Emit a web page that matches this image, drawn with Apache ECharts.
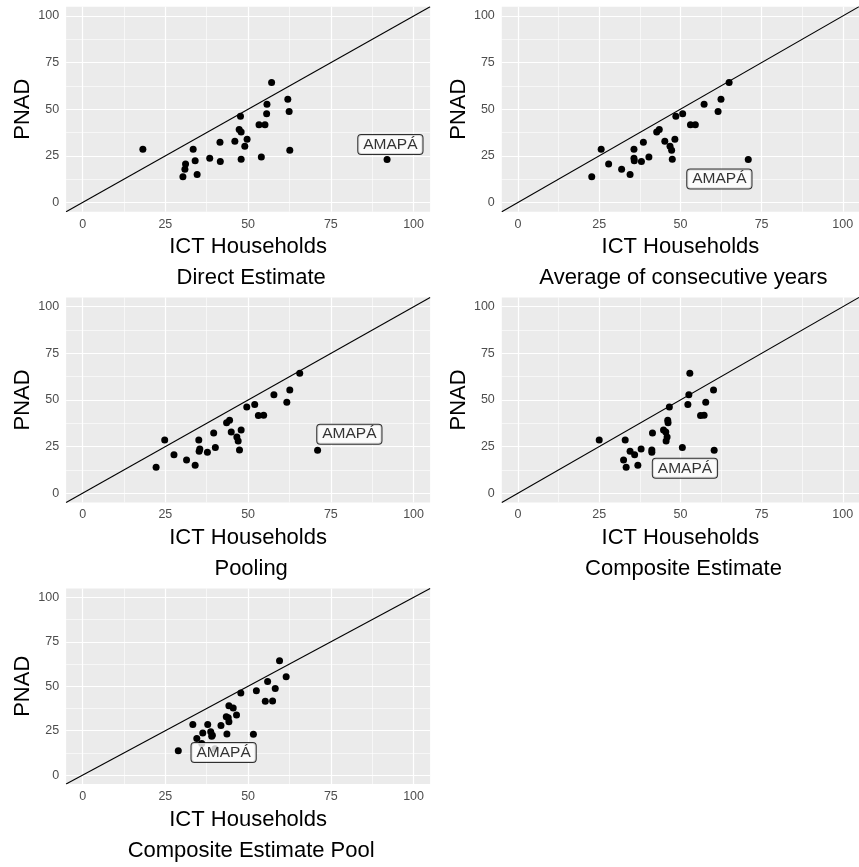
<!DOCTYPE html>
<html>
<head>
<meta charset="utf-8">
<script src="https://cdn.jsdelivr.net/npm/echarts@6/dist/echarts.min.js"></script>
<style>
  html, body { margin: 0; background: #fff; }
  #chart { width: 859px; height: 867px; }
</style>
</head>
<body>
<div id="chart"></div>
<script>
// PNAD value per state (same order in every x array; last one is AMAPÁ)
const pnad = [64.3, 55.3, 52.7, 48.7, 47.5, 46.2, 41.6, 41.7, 39.1, 37.8, 33.9, 32.8, 32.3, 30.1,
  28.5, 28.5, 28.0, 24.4, 23.7, 22.4, 21.9, 23.1, 20.6, 17.8, 14.9, 13.8, 23.0];

const directEst = [57.1, 62.0, 55.7, 62.4, 55.6, 47.7, 53.3, 55.1, 47.3, 47.9, 49.7, 46.0, 41.5, 49.0,
  18.2, 33.4, 62.6, 54.0, 38.4, 34.0, 41.6, 47.9, 31.1, 30.9, 34.6, 30.3, 92.0];
const avgYears = [65.0, 62.5, 57.3, 61.6, 50.7, 48.6, 53.1, 54.6, 43.5, 42.7, 48.3, 45.2, 38.6, 46.8,
  25.6, 35.7, 47.3, 40.3, 35.7, 35.8, 38.0, 47.5, 27.9, 31.9, 34.5, 22.7, 70.9];
const pooling = [65.6, 62.6, 57.8, 61.7, 52.0, 49.6, 53.1, 54.7, 44.4, 43.5, 47.9, 44.9, 39.6, 46.6,
  24.8, 35.1, 47.0, 40.1, 35.4, 35.2, 37.7, 47.4, 27.6, 31.4, 34.0, 22.2, 71.0];
const composite = [52.9, 60.2, 52.6, 57.8, 52.3, 46.6, 56.2, 57.3, 46.1, 46.2, 44.8, 45.5, 41.4, 45.9,
  25.0, 33.0, 45.6, 50.6, 37.9, 34.5, 41.2, 41.2, 35.9, 32.5, 36.9, 33.3, 60.4];
const compositePool = [59.5, 61.5, 55.9, 58.2, 52.5, 47.8, 55.2, 57.4, 44.2, 45.5, 46.5, 43.4, 44.0, 44.2,
  37.8, 33.3, 41.8, 38.7, 36.3, 39.2, 39.0, 43.6, 34.5, 36.0, 40.0, 28.9, 51.6];

const subtitles = ['Direct Estimate', 'Average of consecutive years', 'Pooling',
  'Composite Estimate', 'Composite Estimate Pool'];

// where the AMAPÁ label box sits in each panel (data units)
const labelX = [93, 62, 80.6, 51.4, 42.6];
const labelY = [31, 12.5, 31.6, 13.3, 12.8];

const majorTicks = [0, 25, 50, 75, 100];
const minorTicks = [12.5, 37.5, 62.5, 87.5];

const font = '"Liberation Sans", Arial, sans-serif';
const xSets = [directEst, avgYears, pooling, composite, compositePool];

const colLeft = [66.1, 501.8];
const rowTop = [6.7, 297.4, 588.4];

const grids = [], xAxes = [], yAxes = [], series = [];

xSets.forEach((xs, i) => {
  const col = i % 2, row = Math.floor(i / 2);
  grids.push({
    left: colLeft[col], top: rowTop[row], width: 364, height: 205,
    show: true, backgroundColor: '#EBEBEB', borderWidth: 0
  });

  const common = {
    gridIndex: i, type: 'value', min: -5, max: 105,
    nameLocation: 'middle',
    axisLine: {show: false},
    axisTick: {show: true, length: 4, customValues: majorTicks, lineStyle: {color: '#333333', width: 1}},
    axisLabel: {customValues: majorTicks, color: '#4D4D4D', fontSize: 12.5, fontFamily: font},
    splitLine: {show: false}
  };
  xAxes.push({...common, name: 'ICT Households\n ' + subtitles[i], nameGap: 19,
    nameTextStyle: {fontSize: 22, color: '#000', fontFamily: font, lineHeight: 31},
    axisLabel: {...common.axisLabel, margin: 6}});
  yAxes.push({...common, name: 'PNAD', nameGap: 32,
    nameTextStyle: {fontSize: 22, color: '#000', fontFamily: font},
    axisLabel: {...common.axisLabel, margin: 7}});

  // panel grid lines
  series.push({
    type: 'line', xAxisIndex: i, yAxisIndex: i, z: 1, silent: true,
    data: [[-5, -5]], symbol: 'none', lineStyle: {width: 0},
    markLine: {
      z: 1, silent: true, symbol: ['none', 'none'], label: {show: false}, animation: false,
      data: [
        ...minorTicks.map(v => ({xAxis: v, lineStyle: {color: '#fff', width: 0.6, type: 'solid'}})),
        ...minorTicks.map(v => ({yAxis: v, lineStyle: {color: '#fff', width: 0.6, type: 'solid'}})),
        ...majorTicks.map(v => ({xAxis: v, lineStyle: {color: '#fff', width: 1.2, type: 'solid'}})),
        ...majorTicks.map(v => ({yAxis: v, lineStyle: {color: '#fff', width: 1.2, type: 'solid'}}))
      ]
    }
  });
  // y = x reference
  series.push({
    type: 'line', xAxisIndex: i, yAxisIndex: i, z: 6, silent: true,
    data: [[-5, -5], [105, 105]], symbol: 'none',
    lineStyle: {color: '#000', width: 1.1}
  });
  series.push({
    type: 'scatter', xAxisIndex: i, yAxisIndex: i, z: 7,
    data: pnad.map((y, k) => [xs[k], y]),
    symbolSize: 7, itemStyle: {color: '#000', opacity: 1}
  });
  series.push({
    type: 'scatter', xAxisIndex: i, yAxisIndex: i, z: 8,
    data: [[labelX[i], labelY[i]]], symbolSize: 0,
    label: {
      show: true, position: 'inside', formatter: 'AMAPÁ',
      fontSize: 15.5, color: '#000', fontFamily: font,
      backgroundColor: '#fff', borderColor: '#000', borderWidth: 1, borderRadius: 3,
      padding: [2, 5, 1, 5]
    }
  });
});

const myChart = echarts.init(document.getElementById('chart'));
myChart.setOption({
  animation: false,
  grid: grids,
  xAxis: xAxes,
  yAxis: yAxes,
  series: series
});
</script>
</body>
</html>
